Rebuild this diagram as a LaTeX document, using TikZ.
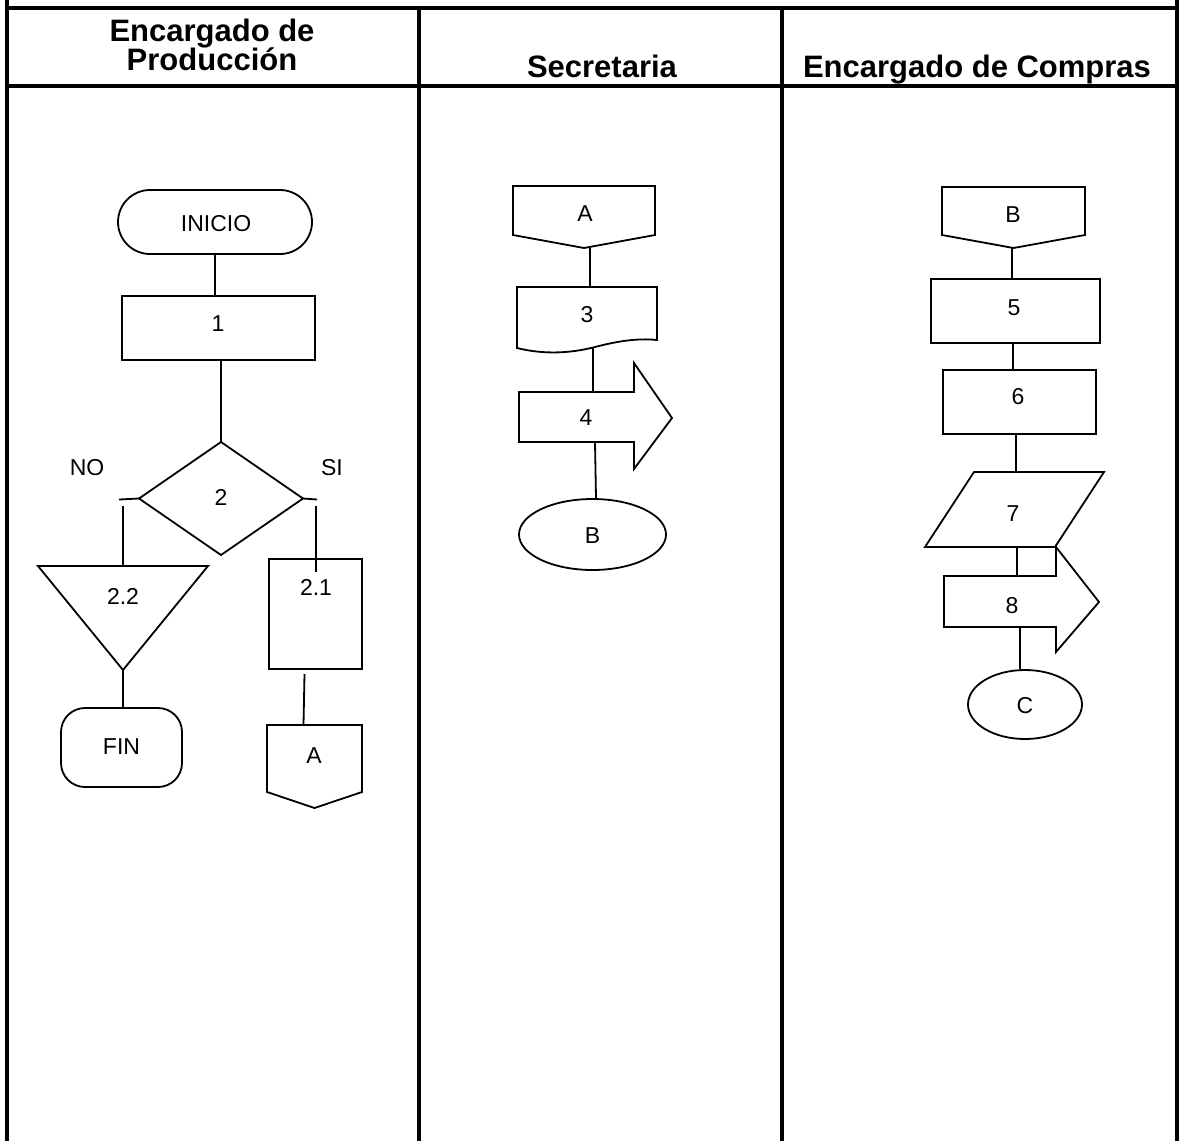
\documentclass[tikz,border=0pt]{standalone}
\usepackage{fontspec}
\setmainfont{Liberation Sans}
\usetikzlibrary{calc,shapes.geometric}
\begin{document}
\begin{tikzpicture}[x=1pt,y=-1pt,
  lane/.style={line width=4pt},
  shp/.style={draw, line width=1.8pt, line join=miter},
  box/.style={draw, line width=1.8pt, inner sep=0pt, outer sep=0pt},
  ghost/.style={draw=none, inner sep=0pt, outer sep=0pt},
  conn/.style={line width=1.8pt},
  lbl/.style={font=\fontsize{23}{26}\selectfont, inner sep=0pt},
  hdr/.style={font=\bfseries\fontsize{31}{31}\selectfont, inner sep=0pt}]
\useasboundingbox (0,0) rectangle (1179,1141);
% ---- swimlane table ----
\draw[lane] (6.5,0) -- (6.5,1141);
\draw[lane] (1177,0) -- (1177,1141);
\draw[lane] (419,8) -- (419,1141);
\draw[lane] (782,8) -- (782,1141);
\draw[lane] (4.5,8) -- (1179,8);
\draw[lane] (4.5,86) -- (1179,86);
\node[hdr, anchor=base] (h1a) at (212,41) {Encargado de};
\node[hdr, anchor=base] (h1b) at (212,70) {Producción};
\node[hdr, anchor=base] (h2) at (602,77) {Secretaria};
\node[hdr, anchor=base] (h3) at (977,77) {Encargado de Compras};

% ---- lane 1: Encargado de Produccion ----
\node[box, rounded corners=32pt, minimum width=194pt, minimum height=64pt] (ini) at (215,222) {};
\node[lbl] (iniT) at (216,224) {INICIO};
\node[box, minimum width=193pt, minimum height=64pt] (p1) at (218.5,328) {};
\node[lbl] (p1T) at (218,324) {1};
\node[ghost, minimum width=164pt, minimum height=113pt] (d2) at (221,498.5) {};
\draw[shp] (d2.north) -- (d2.east) -- (d2.south) -- (d2.west) -- cycle;
\node[lbl] (d2T) at (221,497) {2};
\node[lbl] (no) at (87,468) {NO};
\node[lbl] (si) at (332,468) {SI};
\coordinate (noT) at (119,499.5);
\coordinate (noV) at (123,506);
\coordinate (siT) at (317,499.5);
\coordinate (siV) at (316,506);
\node[ghost, minimum width=170pt, minimum height=104pt] (t22) at (123,618) {};
\draw[shp] (t22.north west) -- (t22.north east) -- (t22.south) -- cycle;
\node[lbl] (t22T) at (123,596) {2.2};
\node[box, minimum width=93pt, minimum height=110pt] (p21) at (315.5,614) {};
\node[lbl] (p21T) at (316,587) {2.1};
\node[box, rounded corners=24pt, minimum width=121pt, minimum height=79pt] (fin) at (121.5,747.5) {};
\node[lbl] (finT) at (121.5,747) {FIN};
\node[ghost, minimum width=95pt, minimum height=83pt] (oa1) at (314.5,766.5) {};
\draw[shp] (oa1.north west) -- (oa1.north east) -- ([yshift=16pt]oa1.south east) -- (oa1.south) -- ([yshift=16pt]oa1.south west) -- cycle;
\node[lbl] (oa1T) at (314,756) {A};

\draw[conn] (ini.south) -- (ini.south |- p1.north);
\draw[conn] (p1.south -| d2.north) -- (d2.north);
\draw[conn] (d2.west) -- (noT);
\draw[conn] (d2.east) -- (siT);
\draw[conn] (noV) -- (noV |- t22.north);
\draw[conn] (siV) -- ([yshift=-13pt]siV |- p21.north);
\draw[conn] (t22.south) -- (t22.south |- fin.north);
\draw[conn] ([xshift=-11pt,yshift=-5pt]p21.south) -- ([xshift=-11pt]oa1.north);

% ---- lane 2: Secretaria ----
\node[ghost, minimum width=142pt, minimum height=62pt] (oa2) at (584,217) {};
\draw[shp] (oa2.north west) -- (oa2.north east) -- ([yshift=13pt]oa2.south east) -- (oa2.south) -- ([yshift=13pt]oa2.south west) -- cycle;
\node[lbl] (oa2T) at (585,214) {A};
\node[ghost, minimum width=140pt, minimum height=63pt] (d3) at (587,318.5) {};
\draw[shp] (517,348) -- (517,287) -- (657,287) -- (657,340)
  .. controls (638,338) and (618,341) .. (595,347)
  .. controls (572,353) and (545,355) .. (517,348) -- cycle;
\node[lbl] (d3T) at (587,315) {3};
\node[ghost, minimum width=115pt, minimum height=50pt] (a4) at (576.5,417) {};
\draw[shp] (519,392) -- (634,392) -- (634,363) -- (672,418) -- (634,469) -- (634,442) -- (519,442) -- cycle;
\node[lbl] (a4T) at (586,418) {4};
\node[ellipse, draw, line width=1.8pt, inner sep=0pt, minimum width=147pt, minimum height=71pt] (eB) at (592.5,534.5) {};
\node[lbl] (eBT) at (592.5,536) {B};

\draw[conn] ([xshift=6pt]oa2.south) -- ([xshift=3pt]d3.north);
\draw[conn] ([xshift=6pt,yshift=3pt]d3.south) -- ([xshift=16.5pt]a4.north);
\draw[conn] ([xshift=18.5pt]a4.south) -- ([xshift=3.5pt]eB.north);

% ---- lane 3: Encargado de Compras ----
\node[ghost, minimum width=143pt, minimum height=61pt] (oB) at (1013.5,217.5) {};
\draw[shp] (oB.north west) -- (oB.north east) -- ([yshift=13pt]oB.south east) -- (oB.south) -- ([yshift=13pt]oB.south west) -- cycle;
\node[lbl] (oBT) at (1013,215) {B};
\node[box, minimum width=169pt, minimum height=64pt] (p5) at (1015.5,311) {};
\node[lbl] (p5T) at (1014,308) {5};
\node[box, minimum width=153pt, minimum height=64pt] (p6) at (1019.5,402) {};
\node[lbl] (p6T) at (1018,397) {6};
\node[ghost, minimum width=179pt, minimum height=75pt] (p7) at (1014.5,509.5) {};
\draw[shp] (974,472) -- (1104,472) -- (1055,547) -- (925,547) -- cycle;
\node[lbl] (p7T) at (1013,514) {7};
\node[ghost, minimum width=112pt, minimum height=51pt] (a8) at (1000,601.5) {};
\draw[shp] (944,576) -- (1056,576) -- (1056,547) -- (1099,602) -- (1056,652) -- (1056,627) -- (944,627) -- cycle;
\node[lbl] (a8T) at (1012,606) {8};
\node[ellipse, draw, line width=1.8pt, inner sep=0pt, minimum width=114pt, minimum height=69pt] (eC) at (1025,704.5) {};
\node[lbl] (eCT) at (1025,706) {C};

\draw[conn] ([xshift=-1.5pt]oB.south) -- ([xshift=-3.5pt]p5.north);
\draw[conn] ([xshift=-2.5pt]p5.south) -- ([xshift=-6.5pt]p6.north);
\draw[conn] ([xshift=-3.5pt]p6.south) -- ([xshift=1.5pt]p7.north);
\draw[conn] ([xshift=2.5pt]p7.south) -- ([xshift=17pt]a8.north);
\draw[conn] ([xshift=20pt]a8.south) -- ([xshift=-5pt]eC.north);
\end{tikzpicture}
\end{document}
